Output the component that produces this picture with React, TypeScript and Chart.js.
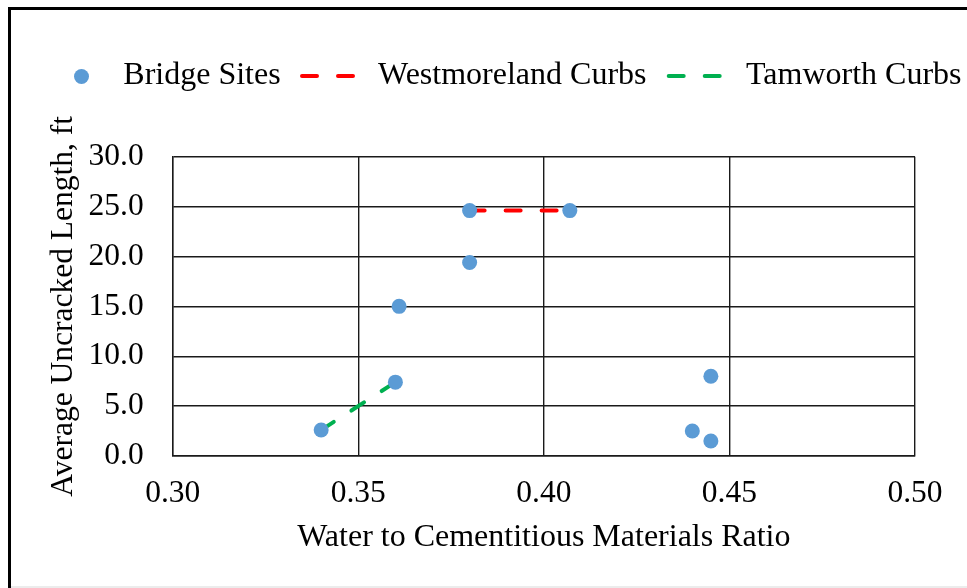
import React, { useEffect, useRef } from 'react';
import { Chart, registerables } from 'chart.js';

Chart.register(...registerables);

// ---- data ----
const seriesNames = ['Bridge Sites', 'Westmoreland Curbs', 'Tamworth Curbs'];
const bridgeX = [0.340, 0.360, 0.361, 0.380, 0.380, 0.407, 0.440, 0.445, 0.445];
const bridgeY = [2.6, 7.4, 15.0, 19.4, 24.6, 24.6, 2.5, 8.0, 1.5];
const westX = [0.380, 0.407];
const westY = [24.6, 24.6];
const tamX = [0.340, 0.360];
const tamY = [2.6, 7.4];
const xTickLabels = ['0.30', '0.35', '0.40', '0.45', '0.50'];
const yTickLabels = ['0.0', '5.0', '10.0', '15.0', '20.0', '25.0', '30.0'];
const xTitle = 'Water to Cementitious Materials Ratio';
const yTitle = 'Average Uncracked Length, ft';

const FONT = "'Liberation Serif', 'Times New Roman', serif";
const GRID = '#1a1a1a';

const toPoints = (xs: number[], ys: number[]) => xs.map((x, i) => ({ x, y: ys[i] }));

// legend slot layout (marker start/end, text start)
const LEGEND_SLOTS = [
  { x0: 73.5, x1: 89.5, text: 123.3 },
  { x0: 300, x1: 356, text: 378 },
  { x0: 666.7, x1: 722.7, text: 746 },
];
const LEGEND_MARK_Y = 76;
const LEGEND_TEXT_Y = 76;

const legendPlugin = {
  id: 'refLegend',
  afterDraw(chart: any) {
    const ctx = chart.ctx as CanvasRenderingContext2D;
    ctx.save();
    chart.data.datasets.forEach((ds: any, i: number) => {
      const slot = LEGEND_SLOTS[i];
      if (!slot) return;
      if (ds.showLine) {
        ctx.strokeStyle = ds.borderColor;
        ctx.lineWidth = ds.borderWidth;
        ctx.lineCap = 'round';
        ctx.setLineDash(ds.borderDash || []);
        ctx.beginPath();
        ctx.moveTo(slot.x0 + 2, LEGEND_MARK_Y);
        ctx.lineTo(slot.x1 - 2, LEGEND_MARK_Y);
        ctx.stroke();
        ctx.setLineDash([]);
      } else {
        ctx.fillStyle = ds.backgroundColor;
        ctx.beginPath();
        ctx.arc((slot.x0 + slot.x1) / 2, LEGEND_MARK_Y + 0.5, ds.pointRadius, 0, Math.PI * 2);
        ctx.fill();
      }
      ctx.fillStyle = '#000';
      ctx.font = `32px ${FONT}`;
      ctx.textBaseline = 'middle';
      ctx.textAlign = 'left';
      ctx.fillText(ds.label, slot.text, LEGEND_TEXT_Y);
    });
    ctx.restore();
  },
};

export default function App() {
  const canvasRef = useRef<HTMLCanvasElement | null>(null);

  useEffect(() => {
    if (!canvasRef.current) return;
    const chart = new Chart(canvasRef.current, {
      type: 'scatter',
      data: {
        datasets: [
          {
            label: seriesNames[0],
            data: toPoints(bridgeX, bridgeY),
            backgroundColor: '#5B9BD5',
            borderColor: '#5B9BD5',
            borderWidth: 0,
            pointRadius: 7.5,
            pointHoverRadius: 7.5,
            showLine: false,
            order: 0,
          },
          {
            label: seriesNames[1],
            data: toPoints(westX, westY),
            borderColor: '#FF0000',
            backgroundColor: '#FF0000',
            borderWidth: 4,
            borderDash: [15, 21],
            borderCapStyle: 'round',
            pointRadius: 0,
            showLine: true,
            order: 1,
          },
          {
            label: seriesNames[2],
            data: toPoints(tamX, tamY),
            borderColor: '#00B050',
            backgroundColor: '#00B050',
            borderWidth: 4,
            borderDash: [15, 21],
            borderCapStyle: 'round',
            pointRadius: 0,
            showLine: true,
            order: 2,
          },
        ],
      } as any,
      options: {
        animation: false,
        responsive: true,
        maintainAspectRatio: false,
        layout: { padding: { top: 156.7, left: 0, right: 52, bottom: 0 } },
        plugins: {
          legend: { display: false },
          tooltip: { enabled: false },
        },
        scales: {
          x: {
            type: 'linear',
            min: Number(xTickLabels[0]),
            max: Number(xTickLabels[xTickLabels.length - 1]),
            ticks: {
              stepSize: 0.05,
              padding: 19,
              color: '#000',
              font: { family: FONT, size: 31.5 },
              maxRotation: 0,
              callback: (_v: any, i: number) => xTickLabels[i],
            },
            grid: { color: GRID, lineWidth: 1.4, drawTicks: false },
            border: { color: GRID, width: 1.4 },
            title: {
              display: true,
              text: xTitle,
              color: '#000',
              font: { family: FONT, size: 32 },
              padding: { top: 0, bottom: 31 },
            },
            afterFit: (s: any) => { s.height = 132; },
          },
          y: {
            type: 'linear',
            min: Number(yTickLabels[0]),
            max: Number(yTickLabels[yTickLabels.length - 1]),
            ticks: {
              stepSize: 5,
              padding: 29,
              color: '#000',
              font: { family: FONT, size: 31.5 },
              callback: (_v: any, i: number) => yTickLabels[i],
            },
            grid: { color: GRID, lineWidth: 1.4, drawTicks: false },
            border: { color: GRID, width: 1.4 },
            title: {
              display: true,
              text: yTitle,
              color: '#000',
              font: { family: FONT, size: 31.5 },
              padding: { top: 45, bottom: 0 },
            },
            afterFit: (s: any) => { s.width = 172.7; },
          },
        },
      } as any,
      plugins: [legendPlugin],
    });
    return () => chart.destroy();
  }, []);

  return (
    <div style={{ position: 'fixed', left: 0, top: 0, width: 967, height: 588, background: '#fff', overflow: 'hidden' }}>
      <div style={{ position: 'absolute', left: 8, top: 7, width: 1000, height: 1000, borderLeft: '3px solid #000', borderTop: '3px solid #000', boxSizing: 'border-box' }} />
      <div style={{ position: 'absolute', left: 11, top: 586, width: 956, height: 2, background: '#ececec' }} />
      <div style={{ position: 'absolute', left: 0, top: 0, width: 967, height: 588 }}>
        <canvas ref={canvasRef} />
      </div>
    </div>
  );
}
